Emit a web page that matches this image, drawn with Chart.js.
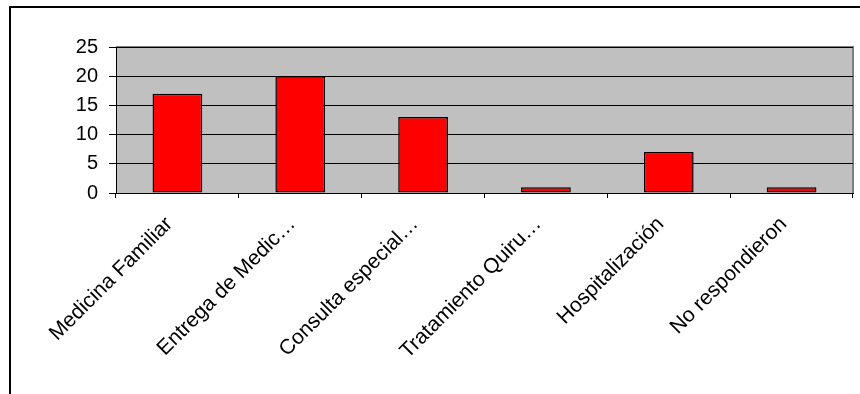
<!DOCTYPE html>
<html>
<head>
<meta charset="utf-8">
<style>
  html, body { margin: 0; padding: 0; background: #ffffff; }
  #wrap { width: 860px; height: 394px; }
</style>
<script src="https://cdn.jsdelivr.net/npm/chart.js@4/dist/chart.umd.min.js"></script>
</head>
<body>
<div id="wrap"><canvas id="chart" width="860" height="394"></canvas></div>
<script>
// Categories and counts per service
const categories = [
  'Medicina Familiar',
  'Entrega de Medic…',
  'Consulta especial…',
  'Tratamiento Quiru…',
  'Hospitalización',
  'No respondieron'
];
const counts = [17, 20, 13, 1, 7, 1];

// Value axis range
const yMin = 0;
const yMax = 25;
const yStep = 5;

const FONT = '"Liberation Sans", Arial, sans-serif';

// Grey plot area, its grey frame and the outer chart frame
const backdrop = {
  id: 'backdrop',
  beforeDraw(chart) {
    const { ctx, chartArea: a } = chart;
    ctx.save();
    // outer frame (top and left edges)
    ctx.fillStyle = '#000000';
    ctx.fillRect(9, 6, 851, 2);
    ctx.fillRect(9, 6, 2, 388);
    // plot area
    ctx.fillStyle = '#C0C0C0';
    ctx.fillRect(a.left, a.top, a.right - a.left, a.bottom - a.top);
    ctx.strokeStyle = '#808080';
    ctx.lineWidth = 2;
    ctx.beginPath();
    ctx.moveTo(a.left, a.top);
    ctx.lineTo(a.right, a.top);
    ctx.lineTo(a.right, a.bottom);
    ctx.stroke();
    ctx.restore();
  }
};

new Chart(document.getElementById('chart'), {
  type: 'bar',
  data: {
    labels: categories,
    datasets: [{
      data: counts,
      backgroundColor: '#FF0000',
      borderColor: '#000000',
      borderWidth: 1.5,
      borderSkipped: false,
      categoryPercentage: 1.0,
      barPercentage: 0.405
    }]
  },
  options: {
    responsive: false,
    animation: false,
    devicePixelRatio: 1,
    layout: { padding: { left: 0, right: 7, top: 47, bottom: 0 } },
    plugins: {
      legend: { display: false },
      tooltip: { enabled: false }
    },
    scales: {
      x: {
        offset: true,
        grid: {
          display: true,
          offset: true,
          drawOnChartArea: false,
          color: '#000000',
          tickLength: 5,
          tickWidth: 1
        },
        border: { display: true, color: '#000000', width: 1 },
        ticks: {
          autoSkip: false,
          minRotation: 45,
          maxRotation: 45,
          padding: 14,
          labelOffset: -8,
          color: '#000000',
          font: { family: FONT, size: 21 }
        },
        afterFit(scale) { scale.height = 394 - 193; }
      },
      y: {
        min: yMin,
        max: yMax,
        ticks: {
          stepSize: yStep,
          padding: 11,
          color: '#000000',
          font: { family: FONT, size: 20 }
        },
        grid: {
          color: '#000000',
          lineWidth: 1,
          tickLength: 7,
          drawTicks: true
        },
        border: { display: true, color: '#000000', width: 1 },
        afterFit(scale) { scale.width = 116; }
      }
    }
  },
  plugins: [backdrop]
});
</script>
</body>
</html>
